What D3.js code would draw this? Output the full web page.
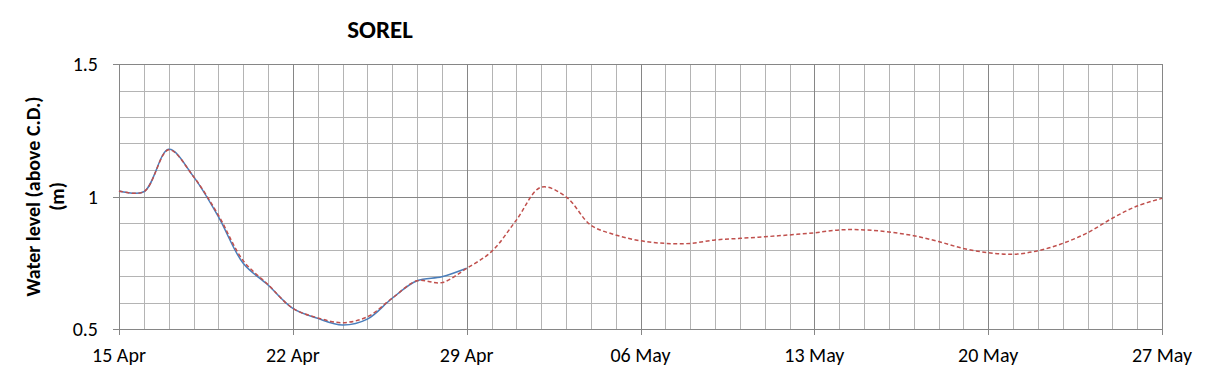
<!DOCTYPE html>
<html>
<head>
<meta charset="utf-8">
<script src="https://cdn.jsdelivr.net/npm/d3@7"></script>
<style>
  body { margin: 0; background: #fff; }
  text { font-family: Carlito, Lato, "Liberation Sans", sans-serif; }
</style>
</head>
<body>
<div id="chart"></div>
<script>
// observed levels (blue)
var obsDays = ['2024-04-15', '2024-04-16', '2024-04-17', '2024-04-18', '2024-04-19', '2024-04-20',
    '2024-04-21', '2024-04-22', '2024-04-23', '2024-04-24', '2024-04-25', '2024-04-26',
    '2024-04-27', '2024-04-28', '2024-04-29'];
var obsLevels = [1.021, 1.018, 1.178, 1.075, 0.924, 0.748, 0.666, 0.578, 0.540, 0.515, 0.537, 0.616,
    0.682, 0.697, 0.729];

// predicted levels (red dashed)
var predDays = ['2024-04-15', '2024-04-16', '2024-04-17', '2024-04-18', '2024-04-19', '2024-04-20',
    '2024-04-21', '2024-04-22', '2024-04-23', '2024-04-24', '2024-04-25', '2024-04-26',
    '2024-04-27', '2024-04-28', '2024-04-29', '2024-04-30', '2024-05-01', '2024-05-02',
    '2024-05-03', '2024-05-04', '2024-05-05', '2024-05-06', '2024-05-07', '2024-05-08',
    '2024-05-09', '2024-05-10', '2024-05-11', '2024-05-12', '2024-05-13', '2024-05-14',
    '2024-05-15', '2024-05-16', '2024-05-17', '2024-05-18', '2024-05-19', '2024-05-20',
    '2024-05-21', '2024-05-22', '2024-05-23', '2024-05-24', '2024-05-25', '2024-05-26',
    '2024-05-27'];
var predLevels = [1.021, 1.018, 1.176, 1.075, 0.930, 0.758, 0.668, 0.578, 0.542, 0.524, 0.546, 0.616,
    0.682, 0.675, 0.729, 0.792, 0.911, 1.035, 0.999, 0.892, 0.855, 0.833, 0.823, 0.823,
    0.836, 0.842, 0.848, 0.855, 0.863, 0.874, 0.874, 0.866, 0.852, 0.830, 0.804, 0.788,
    0.782, 0.795, 0.823, 0.863, 0.918, 0.964, 0.993];

var xTickLabels = ['15 Apr', '22 Apr', '29 Apr', '06 May', '13 May', '20 May', '27 May'];
var yTicks = [0.5, 1, 1.5];

var padding = { left: 119, top: 64, right: 47, bottom: 49 };
var width = 1209, height = 378;
var plotW = width - padding.left - padding.right;
var plotH = height - padding.top - padding.bottom;

var parse = d3.timeParse('%Y-%m-%d');
var start = parse('2024-04-15'), end = parse('2024-05-27');

var svg = d3.select('#chart')
    .append('svg')
    .attr('width', width)
    .attr('height', height);

var xScale = d3.scaleTime()
    .domain([start, end])
    .range([padding.left, padding.left + plotW]);
var yScale = d3.scaleLinear()
    .domain([0.5, 1.5])
    .range([padding.top + plotH, padding.top]);

var allDays = d3.timeDay.range(start, d3.timeDay.offset(end, 1));
var weekDays = allDays.filter(function (d, i) { return i % 7 == 0; });

// minor grid
var grid = svg.append('g');
grid.selectAll('.vminor')
    .data(allDays)
    .enter()
    .append('line')
    .attr('x1', d => Math.round(xScale(d)) + 0.5)
    .attr('x2', d => Math.round(xScale(d)) + 0.5)
    .attr('y1', padding.top)
    .attr('y2', padding.top + plotH)
    .style('stroke', '#b4b4b4');
grid.selectAll('.hminor')
    .data(d3.range(0.5, 1.501, 0.1))
    .enter()
    .append('line')
    .attr('x1', padding.left)
    .attr('x2', padding.left + plotW)
    .attr('y1', d => Math.round(yScale(d)) + 0.5)
    .attr('y2', d => Math.round(yScale(d)) + 0.5)
    .style('stroke', '#b4b4b4');

// major grid + axis ticks
grid.selectAll('.vmajor')
    .data(weekDays)
    .enter()
    .append('line')
    .attr('x1', d => Math.round(xScale(d)) + 0.5)
    .attr('x2', d => Math.round(xScale(d)) + 0.5)
    .attr('y1', padding.top)
    .attr('y2', padding.top + plotH + 6)
    .style('stroke', '#868686');
grid.selectAll('.hmajor')
    .data(yTicks)
    .enter()
    .append('line')
    .attr('x1', padding.left - 6)
    .attr('x2', padding.left + plotW)
    .attr('y1', d => Math.round(yScale(d)) + 0.5)
    .attr('y2', d => Math.round(yScale(d)) + 0.5)
    .style('stroke', '#868686');

// tick labels
svg.selectAll('.ylab')
    .data(yTicks)
    .enter()
    .append('text')
    .attr('x', padding.left - 21)
    .attr('y', d => yScale(d) + 7)
    .style('text-anchor', 'end')
    .style('font-size', '20px')
    .text(d => d);

svg.selectAll('.xlab')
    .data(weekDays)
    .enter()
    .append('text')
    .attr('x', d => xScale(d))
    .attr('y', padding.top + plotH + 33)
    .style('text-anchor', 'middle')
    .style('font-size', '20px')
    .text((d, i) => xTickLabels[i]);

// series
var line = d3.line()
    .x(d => xScale(d[0]))
    .y(d => yScale(d[1]))
    .curve(d3.curveCatmullRom.alpha(0.5));

var obs = obsDays.map((d, i) => [parse(d), obsLevels[i]]);
var pred = predDays.map((d, i) => [parse(d), predLevels[i]]);

svg.append('path')
    .attr('d', line(obs))
    .style('fill', 'none')
    .style('stroke', '#4a7ebb')
    .style('stroke-width', 1.5);

svg.append('path')
    .attr('d', line(pred))
    .style('fill', 'none')
    .style('stroke', '#c0504d')
    .style('stroke-width', 1.5)
    .style('stroke-dasharray', '4,2.5');

// title
svg.append('text')
    .attr('x', 380)
    .attr('y', 38)
    .style('text-anchor', 'middle')
    .style('font-size', '25px')
    .style('font-weight', 'bold')
    .text('SOREL');

// y label
var ylab = svg.append('text')
    .attr('transform', 'translate(40,' + (padding.top + plotH / 2) + ') rotate(-90)')
    .style('text-anchor', 'middle')
    .style('font-size', '20px')
    .style('font-weight', 'bold');
ylab.append('tspan').attr('x', 0).attr('dy', 0).text('Water level (above C.D.)');
ylab.append('tspan').attr('x', 0).attr('dy', 24).text('(m)');
</script>
</body>
</html>
